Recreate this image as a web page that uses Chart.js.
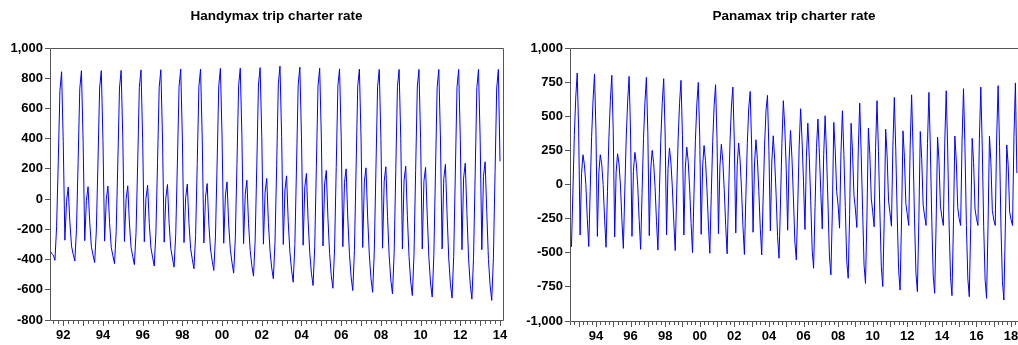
<!DOCTYPE html>
<html>
<head>
<meta charset="utf-8">
<script src="https://cdn.jsdelivr.net/npm/chart.js@4.4.0/dist/chart.umd.min.js"></script>
<style>
html, body { margin: 0; padding: 0; background: #fff; }
#wrap { position: relative; width: 1018px; height: 345px; }
#wrap canvas { position: absolute; top: 0; }
</style>
</head>
<body>
<div id="wrap">
  <canvas id="handyChart" width="509" height="345" style="left:0"></canvas>
  <canvas id="panaChart" width="509" height="345" style="left:509px"></canvas>
</div>
<script>
// ---- data (monthly observations) ----
const handyTitle = 'Handymax trip charter rate';
const handyFirstMonth = [1991, 5];   // May 1991
const handyRate = [
  -340, -360, -370, -405, -180, 250, 720, 843,                       // 1991 May-Dec
  380, -272, -15, 80, -150, -310, -365, -410, -200, 250, 730, 850,   // 1992
  390, -275, -10, 82, -150, -315, -370, -420, -210, 245, 735, 850,   // 1993
  395, -278, -5, 86, -155, -318, -375, -427, -215, 245, 735, 852,    // 1994
  400, -280, 0, 88, -158, -320, -380, -434, -220, 240, 740, 855,     // 1995
  400, -282, 5, 92, -160, -322, -385, -443, -225, 240, 740, 856,     // 1996
  405, -285, 8, 97, -160, -325, -390, -450, -230, 238, 745, 860,     // 1997
  405, -288, 10, 100, -162, -328, -398, -461, -240, 235, 745, 860,   // 1998
  410, -290, 12, 103, -165, -330, -405, -472, -250, 232, 750, 865,   // 1999
  410, -292, 20, 114, -165, -335, -420, -490, -260, 230, 750, 866,   // 2000
  412, -295, 30, 125, -160, -340, -440, -510, -270, 225, 755, 870,   // 2001
  415, -298, 45, 137, -155, -345, -455, -527, -285, 222, 760, 880,   // 2002
  415, -300, 60, 154, -150, -350, -470, -550, -300, 220, 755, 873,   // 2003
  412, -305, 80, 170, -140, -355, -490, -572, -315, 215, 750, 866,   // 2004
  410, -310, 100, 190, -130, -360, -505, -590, -330, 210, 750, 862,  // 2005
  408, -315, 110, 200, -125, -365, -515, -605, -340, 205, 748, 860,  // 2006
  405, -320, 115, 207, -120, -370, -525, -617, -350, 200, 745, 858,  // 2007
  402, -325, 120, 214, -115, -375, -535, -628, -360, 195, 745, 858,  // 2008
  400, -330, 125, 218, -110, -380, -545, -638, -370, 190, 742, 858,  // 2009
  400, -330, 118, 210, -105, -385, -555, -648, -375, 185, 740, 858,  // 2010
  398, -330, 135, 230, -100, -390, -560, -655, -380, 180, 740, 858,  // 2011
  396, -335, 140, 238, -95, -395, -565, -662, -385, 178, 738, 858,   // 2012
  395, -335, 150, 247, -90, -400, -570, -670, -390, 175, 735, 858,   // 2013
  250                                                                // 2014 Jan
];
const handyYTicks = [-800, -600, -400, -200, 0, 200, 400, 600, 800, 1000];
const handyLabelYears = [1992, 1994, 1996, 1998, 2000, 2002, 2004, 2006, 2008, 2010, 2012, 2014];

const panaTitle = 'Panamax trip charter rate';
const panaFirstMonth = [1992, 7];    // Jul 1992
const panaRate = [
  -370, -455, -60, 360, 640, 817,                                    // 1992 Jul-Dec
  400, -370, 80, 218, 145, 0, -250, -455, -50, 350, 620, 810,        // 1993
  395, -380, 85, 218, 150, 0, -255, -460, -50, 345, 615, 800,        // 1994
  390, -385, 90, 225, 150, -5, -260, -468, -55, 340, 610, 792,       // 1995
  385, -380, 95, 235, 155, -10, -265, -475, -60, 335, 605, 785,      // 1996
  380, -375, 105, 250, 160, -15, -270, -480, -65, 330, 600, 775,     // 1997
  370, -370, 115, 267, 165, -20, -275, -484, -70, 325, 595, 763,     // 1998
  360, -370, 120, 274, 170, -25, -285, -500, -75, 320, 590, 748,     // 1999
  345, -365, 130, 286, 175, -30, -290, -504, -80, 315, 580, 731,     // 2000
  330, -360, 135, 295, 175, -35, -300, -508, -85, 310, 575, 714,     // 2001
  310, -355, 140, 304, 180, -40, -310, -513, -90, 300, 560, 682,     // 2002
  290, -350, 150, 328, 185, -50, -320, -516, -100, 290, 545, 653,    // 2003
  250, -340, 165, 357, 180, -80, -380, -540, -150, 300, 614, 420,    // 2004
  120, -335, 180, 396, 190, -100, -420, -552, -160, 290, 555, 320,   // 2005
  20, -330, 200, 450, 200, -120, -480, -614, -170, 270, 480, 230,    // 2006
  -60, -325, 220, 504, 210, -150, -530, -662, -200, 455, 250, -50,   // 2007
  -150, -320, 240, 540, 220, -170, -560, -687, -220, 449, 240, -80,  // 2008
  -180, -315, 260, 596, 230, -190, -590, -724, -240, 413, 220, -100, // 2009
  -200, -310, 270, 614, 240, -210, -610, -748, -250, 405, 210, -120, // 2010
  -210, -305, 280, 638, 250, -230, -630, -773, -260, 393, 200, -140, // 2011
  -220, -300, 290, 657, 250, -250, -650, -785, -270, 388, 190, -150, // 2012
  -230, -300, 300, 675, 260, -270, -670, -797, -280, 348, 170, -160, // 2013
  -240, -300, 310, 687, 260, -290, -680, -814, -290, 355, 170, -170, // 2014
  -250, -300, 320, 702, 270, -300, -690, -822, -300, 338, 160, -180, // 2015
  -250, -300, 330, 714, 270, -310, -700, -834, -310, 355, 160, -190, // 2016
  -260, -300, 340, 724, 280, -320, -710, -846, -320, 290, 140, -200, // 2017
  -260, -300, 350, 744, 84                                           // 2018 Jan-May
];
const panaYTicks = [-1000, -750, -500, -250, 0, 250, 500, 750, 1000];
const panaLabelYears = [1994, 1996, 1998, 2000, 2002, 2004, 2006, 2008, 2010, 2012, 2014, 2016, 2018];

// ---- drawing ----
const tickFont = { family: '"Liberation Sans", Arial, sans-serif', size: 13, weight: 'bold' };
const frameColor = '#555555';

function toPoints(firstMonth, values) {
    var start = firstMonth[0] + (firstMonth[1] - 1) / 12;
    return values.map((v, i) => ({ x: start + i / 12, y: v }));
}

// title, frame and quarterly tick marks drawn on top of the chart
const panelDecor = {
    id: 'panelDecor',
    afterDraw(chart, args, opts) {
        const ctx = chart.ctx;
        const a = chart.chartArea;
        const xs = chart.scales.x;
        ctx.save();
        ctx.fillStyle = '#000';
        ctx.font = 'bold 13.5px "Liberation Sans", Arial, sans-serif';
        ctx.textAlign = 'center';
        ctx.textBaseline = 'middle';
        ctx.fillText(opts.title, (a.left + a.right) / 2, 16);

        ctx.strokeStyle = frameColor;
        ctx.lineWidth = 1;
        ctx.beginPath();
        ctx.moveTo(Math.round(a.left) + 0.5, Math.round(a.bottom) + 0.5);
        ctx.lineTo(Math.round(a.left) + 0.5, Math.round(a.top) + 0.5);
        ctx.lineTo(Math.round(a.right) + 0.5, Math.round(a.top) + 0.5);
        if (opts.rightBorder) {
            ctx.lineTo(Math.round(a.right) + 0.5, Math.round(a.bottom) + 0.5);
        } else {
            ctx.moveTo(Math.round(a.right) + 0.5, Math.round(a.bottom) + 0.5);
        }
        ctx.lineTo(Math.round(a.left) + 0.5, Math.round(a.bottom) + 0.5);
        ctx.stroke();

        // quarter ticks under the time axis, longer ones at each year
        ctx.beginPath();
        for (var q = Math.ceil(xs.min * 4); q <= Math.floor(xs.max * 4); q++) {
            var px = Math.round(xs.getPixelForValue(q / 4)) + 0.5;
            var len = (q % 4 === 0) ? 5 : 3;
            ctx.moveTo(px, Math.round(a.bottom) + 1);
            ctx.lineTo(px, Math.round(a.bottom) + 1 + len);
        }
        ctx.stroke();
        ctx.restore();
    }
};

function makePanel(canvasId, title, firstMonth, values, yTicks, labelYears, cfg) {
    var points = toPoints(firstMonth, values);
    var ctx = document.getElementById(canvasId);
    return new Chart(ctx, {
        type: 'line',
        data: {
            datasets: [{
                data: points,
                borderColor: '#0000ff',
                borderWidth: 1,
                pointRadius: 0,
                tension: 0,
                fill: false
            }]
        },
        options: {
            responsive: false,
            animation: false,
            events: [],
            layout: { padding: { top: 48, right: cfg.padRight, bottom: 0, left: 0 } },
            plugins: {
                legend: { display: false },
                tooltip: { enabled: false },
                panelDecor: { title: title, rightBorder: cfg.rightBorder }
            },
            scales: {
                x: {
                    type: 'linear',
                    min: points[0].x,
                    max: cfg.xMax,
                    grid: { display: false, drawTicks: false },
                    border: { display: false },
                    afterFit: (s) => {
                        s.height = cfg.xHeight;
                        s.paddingLeft = 0;
                        s.paddingRight = 0;
                    },
                    afterBuildTicks: (s) => { s.ticks = labelYears.map((y) => ({ value: y })); },
                    ticks: {
                        autoSkip: false,
                        maxRotation: 0,
                        padding: 8,
                        color: '#000',
                        font: tickFont,
                        callback: (v) => String(Math.round(v)).slice(2)
                    }
                },
                y: {
                    min: yTicks[0],
                    max: yTicks[yTicks.length - 1],
                    grid: { display: true, drawOnChartArea: false, drawTicks: true, tickLength: 5, color: frameColor },
                    border: { display: false },
                    afterFit: (s) => { s.width = cfg.yWidth; },
                    afterBuildTicks: (s) => { s.ticks = yTicks.map((v) => ({ value: v })); },
                    ticks: {
                        padding: 2,
                        color: '#000',
                        font: tickFont,
                        callback: (v) => v.toLocaleString('en-US')
                    }
                }
            }
        },
        plugins: [panelDecor]
    });
}

makePanel('handyChart', handyTitle, handyFirstMonth, handyRate, handyYTicks, handyLabelYears,
    { xMax: 2014.15, yWidth: 50, xHeight: 25, padRight: 6, rightBorder: true });
makePanel('panaChart', panaTitle, panaFirstMonth, panaRate, panaYTicks, panaLabelYears,
    { xMax: 2018.4, yWidth: 61, xHeight: 24, padRight: 0, rightBorder: false });
</script>
</body>
</html>
